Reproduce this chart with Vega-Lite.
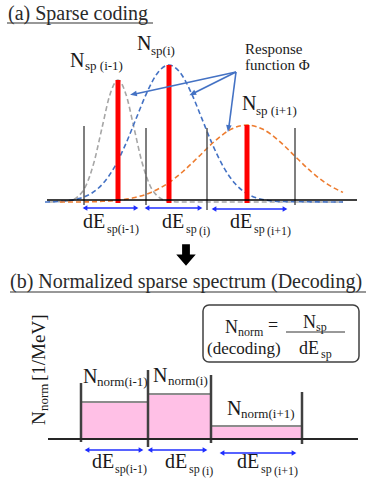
{
  "$schema": "https://vega.github.io/schema/vega-lite/v6.json",
  "width": 376,
  "height": 484,
  "padding": 0,
  "autosize": {"type": "fit", "contains": "padding"},
  "background": "white",
  "config": {"view": {"stroke": null}, "font": "Times New Roman, Liberation Serif, DejaVu Serif, serif"},
  "datasets": {
    "curves": [
      {"s":"g","x":50,"y":202},{"s":"g","x":70,"y":200.6},{"s":"g","x":78,"y":196.6},{"s":"g","x":86,"y":185.5},{"s":"g","x":94,"y":162.3},{"s":"g","x":102,"y":127.9},{"s":"g","x":110,"y":94.4},{"s":"g","x":118,"y":80},{"s":"g","x":126,"y":94.4},{"s":"g","x":134,"y":127.9},{"s":"g","x":142,"y":162.3},{"s":"g","x":150,"y":185.5},{"s":"g","x":158,"y":196.6},{"s":"g","x":166,"y":200.6},{"s":"g","x":180,"y":202},{"s":"g","x":343,"y":202},
      {"s":"b","x":45,"y":202},{"s":"b","x":59,"y":201.5},{"s":"b","x":70,"y":200.5},{"s":"b","x":81,"y":198.1},{"s":"b","x":92,"y":193},{"s":"b","x":103,"y":183.5},{"s":"b","x":114,"y":167.9},{"s":"b","x":125,"y":145.7},{"s":"b","x":136,"y":118.9},{"s":"b","x":147,"y":92.3},{"s":"b","x":158,"y":72.4},{"s":"b","x":169,"y":65},{"s":"b","x":180,"y":72.4},{"s":"b","x":191,"y":92.3},{"s":"b","x":202,"y":118.9},{"s":"b","x":213,"y":145.7},{"s":"b","x":224,"y":167.9},{"s":"b","x":235,"y":183.5},{"s":"b","x":246,"y":193},{"s":"b","x":257,"y":198.1},{"s":"b","x":268,"y":200.5},{"s":"b","x":279,"y":201.5},{"s":"b","x":343,"y":202},
      {"s":"o","x":60,"y":202},{"s":"o","x":87,"y":201.9},{"s":"o","x":103,"y":201.3},{"s":"o","x":119,"y":200.1},{"s":"o","x":135,"y":197.5},{"s":"o","x":151,"y":192.4},{"s":"o","x":167,"y":183.9},{"s":"o","x":183,"y":171.5},{"s":"o","x":199,"y":156.3},{"s":"o","x":215,"y":140.9},{"s":"o","x":231,"y":129.3},{"s":"o","x":247,"y":125},{"s":"o","x":263,"y":129.3},{"s":"o","x":279,"y":140.9},{"s":"o","x":295,"y":156.3},{"s":"o","x":311,"y":171.5},{"s":"o","x":327,"y":183.9},{"s":"o","x":343,"y":192.4}
    ],
    "edgesTop": [
      {"x":84,"y":126,"x2":84,"y2":205},{"x":146,"y":128,"x2":146,"y2":205},{"x":207,"y":128,"x2":207,"y2":210},{"x":295,"y":128,"x2":295,"y2":205}
    ],
    "bars": [
      {"x":118,"y":80,"x2":118,"y2":203},{"x":169,"y":65,"x2":169,"y2":203},{"x":247,"y":125,"x2":247,"y2":203}
    ],
    "baselineTop": [{"x":47,"y":200,"x2":357,"y2":200}],
    "edgesBottom": [
      {"x":81,"y":383,"x2":81,"y2":442},{"x":148,"y":370,"x2":148,"y2":447},{"x":211,"y":375,"x2":211,"y2":443},{"x":302,"y":392,"x2":302,"y2":444}
    ],
    "baselineBottom": [{"x":48,"y":439,"x2":358,"y2":439}],
    "rects": [
      {"x":81,"x2":148,"y":402,"y2":439},{"x":148,"x2":211,"y":394,"y2":439},{"x":211,"x2":302,"y":426,"y2":439}
    ],
    "rectTops": [
      {"x":81,"x2":148,"y":402,"y2":402},{"x":148,"x2":211,"y":394,"y2":394},{"x":211,"x2":302,"y":426,"y2":426}
    ],
    "blueArrows": [
      {"x":84,"x2":137,"y":208,"y2":208},{"x":146,"x2":201,"y":208,"y2":208},{"x":213,"x2":286,"y":209,"y2":209},
      {"x":86,"x2":142,"y":450,"y2":450},{"x":149,"x2":206,"y":450,"y2":450},{"x":221,"x2":295,"y":453,"y2":453}
    ],
    "blueHeads": [
      {"x":85,"y":208,"d":"l"},{"x":136,"y":208,"d":"r"},{"x":147,"y":208,"d":"l"},{"x":200,"y":208,"d":"r"},{"x":214,"y":209,"d":"l"},{"x":285,"y":209,"d":"r"},
      {"x":87,"y":450,"d":"l"},{"x":141,"y":450,"d":"r"},{"x":150,"y":450,"d":"l"},{"x":205,"y":450,"d":"r"},{"x":222,"y":453,"d":"l"},{"x":294,"y":453,"d":"r"}
    ],
    "respLines": [
      {"x":236,"y":72,"x2":135,"y2":94},{"x":236,"y":72,"x2":194,"y2":93},{"x":236,"y":72,"x2":229,"y2":126}
    ],
    "respHeads": [
      {"x":134,"y":94,"a":258},{"x":193,"y":93.5,"a":243},{"x":228.5,"y":128,"a":188}
    ],
    "downArrow": [{"x":186,"y":254}],
    "box": [{"x":203,"x2":359,"y":305,"y2":362}],
    "fracLine": [{"x":286,"x2":345,"y":332,"y2":332}],
    "underlines": [{"x":7,"x2":153,"y":23,"y2":23},{"x":10,"x2":366,"y":292,"y2":292}],
    "titles": [
      {"x":8,"y":20,"t":"(a) Sparse coding"},
      {"x":10,"y":288,"t":"(b) Normalized sparse spectrum (Decoding)"}
    ],
    "mainText": [
      {"x":70,"y":67,"t":"N"},{"x":137,"y":50,"t":"N"},{"x":242,"y":110,"t":"N"},
      {"x":83,"y":228,"t":"dE"},{"x":162,"y":228,"t":"dE"},{"x":230,"y":228,"t":"dE"},
      {"x":83,"y":383,"t":"N"},{"x":153,"y":382,"t":"N"},{"x":227,"y":415,"t":"N"},
      {"x":92,"y":468,"t":"dE"},{"x":165,"y":468,"t":"dE"},{"x":237,"y":468,"t":"dE"}
    ],
    "subText": [
      {"x":85,"y":70,"t":"sp (i-1)"},{"x":151,"y":55,"t":"sp(i)"},{"x":256,"y":115,"t":"sp (i+1)"},
      {"x":97,"y":386,"t":"norm(i-1)"},{"x":168,"y":385,"t":"norm(i)"},{"x":241,"y":418,"t":"norm(i+1)"}
    ],
    "dSubText": [
      {"x":107,"y":233,"t":"sp(i-1)"},{"x":186,"y":233,"t":"sp"},{"x":199,"y":235,"t":"(i)"},{"x":254,"y":233,"t":"sp"},{"x":267,"y":235,"t":"(i+1)"},
      {"x":115,"y":473,"t":"sp(i-1)"},{"x":189,"y":473,"t":"sp"},{"x":202,"y":475,"t":"(i)"},{"x":261,"y":473,"t":"sp"},{"x":274,"y":475,"t":"(i+1)"}
    ],
    "respText": [
      {"x":245,"y":54,"t":"Response"},{"x":245,"y":70,"t":"function Φ"}
    ],
    "formMain": [
      {"x":225,"y":333,"t":"N"},{"x":268,"y":331,"t":"="},{"x":303,"y":328,"t":"N"},{"x":299,"y":354,"t":"dE"}
    ],
    "formDec": [
      {"x":207,"y":354,"t":"(decoding)"}
    ],
    "formSub": [
      {"x":238,"y":336,"t":"norm"},{"x":316,"y":331,"t":"sp"},{"x":321,"y":358,"t":"sp"}
    ],
    "yMain": [{"x":45,"y":425,"t":"N"},{"x":45,"y":381,"t":"[1/MeV]"}],
    "ySub": [{"x":48,"y":411,"t":"norm"}]
  },
  "encoding": {
    "x": {"field": "x", "type": "quantitative", "scale": {"domain": [0, 376], "nice": false, "zero": false}, "axis": null},
    "y": {"field": "y", "type": "quantitative", "scale": {"domain": [0, 484], "reverse": true, "nice": false, "zero": false}, "axis": null}
  },
  "layer": [
    {"data": {"name": "curves"}, "mark": {"type": "line", "interpolate": "monotone", "strokeDash": [5, 3], "strokeWidth": 1.6},
     "encoding": {"color": {"field": "s", "type": "nominal", "scale": {"domain": ["g", "b", "o"], "range": ["#a6a6a6", "#4472c4", "#ed7d31"]}, "legend": null}}},
    {"data": {"name": "edgesTop"}, "mark": {"type": "rule", "color": "#555555", "strokeWidth": 1.5},
     "encoding": {"x2": {"field": "x2"}, "y2": {"field": "y2"}}},
    {"data": {"name": "bars"}, "mark": {"type": "rule", "color": "#ff0000", "strokeWidth": 5},
     "encoding": {"x2": {"field": "x2"}, "y2": {"field": "y2"}}},
    {"data": {"name": "baselineTop"}, "mark": {"type": "rule", "color": "#000000", "strokeWidth": 1.5},
     "encoding": {"x2": {"field": "x2"}, "y2": {"field": "y2"}}},
    {"data": {"name": "respLines"}, "mark": {"type": "rule", "color": "#4472c4", "strokeWidth": 1.6},
     "encoding": {"x2": {"field": "x2"}, "y2": {"field": "y2"}}},
    {"data": {"name": "respHeads"}, "mark": {"type": "point", "shape": "M0,-1L0.7,0.7L-0.7,0.7Z", "filled": true, "color": "#4472c4", "size": 64, "opacity": 1},
     "encoding": {"angle": {"field": "a", "type": "quantitative", "scale": null}}},
    {"data": {"name": "rects"}, "mark": {"type": "rect", "color": "#ffc0e6"},
     "encoding": {"x2": {"field": "x2"}, "y2": {"field": "y2"}}},
    {"data": {"name": "rectTops"}, "mark": {"type": "rule", "color": "#8c8c8c", "strokeWidth": 2},
     "encoding": {"x2": {"field": "x2"}, "y2": {"field": "y2"}}},
    {"data": {"name": "edgesBottom"}, "mark": {"type": "rule", "color": "#404040", "strokeWidth": 2.5},
     "encoding": {"x2": {"field": "x2"}, "y2": {"field": "y2"}}},
    {"data": {"name": "baselineBottom"}, "mark": {"type": "rule", "color": "#262626", "strokeWidth": 2},
     "encoding": {"x2": {"field": "x2"}, "y2": {"field": "y2"}}},
    {"data": {"name": "blueArrows"}, "mark": {"type": "rule", "color": "#1f2eff", "strokeWidth": 1.5},
     "encoding": {"x2": {"field": "x2"}, "y2": {"field": "y2"}}},
    {"data": {"name": "blueHeads"}, "mark": {"type": "point", "filled": true, "color": "#1f2eff", "size": 30, "opacity": 1},
     "encoding": {"shape": {"field": "d", "type": "nominal", "scale": {"domain": ["l", "r"], "range": ["triangle-left", "triangle-right"]}, "legend": null}}},
    {"data": {"name": "downArrow"}, "mark": {"type": "point", "shape": "M-0.4,-1L0.4,-1L0.4,0.05L1,0.05L0,1.2L-1,0.05L-0.4,0.05Z", "filled": true, "color": "#000000", "size": 380, "opacity": 1}},
    {"data": {"name": "box"}, "mark": {"type": "rect", "fill": null, "fillOpacity": 0, "stroke": "#404040", "strokeWidth": 1.5, "cornerRadius": 6},
     "encoding": {"x2": {"field": "x2"}, "y2": {"field": "y2"}}},
    {"data": {"name": "fracLine"}, "mark": {"type": "rule", "color": "#333333", "strokeWidth": 1},
     "encoding": {"x2": {"field": "x2"}, "y2": {"field": "y2"}}},
    {"data": {"name": "underlines"}, "mark": {"type": "rule", "color": "#333333", "strokeWidth": 1.2},
     "encoding": {"x2": {"field": "x2"}, "y2": {"field": "y2"}}},
    {"data": {"name": "titles"}, "mark": {"type": "text", "font": "Times New Roman, Liberation Serif, DejaVu Serif, serif", "fontSize": 20, "align": "left", "baseline": "alphabetic", "color": "#2a2a2a"},
     "encoding": {"text": {"field": "t"}}},
    {"data": {"name": "mainText"}, "mark": {"type": "text", "font": "Times New Roman, Liberation Serif, DejaVu Serif, serif", "fontSize": 20, "align": "left", "baseline": "alphabetic", "color": "#1a1a1a"},
     "encoding": {"text": {"field": "t"}}},
    {"data": {"name": "subText"}, "mark": {"type": "text", "font": "Times New Roman, Liberation Serif, DejaVu Serif, serif", "fontSize": 13, "align": "left", "baseline": "alphabetic", "color": "#1a1a1a"},
     "encoding": {"text": {"field": "t"}}},
    {"data": {"name": "dSubText"}, "mark": {"type": "text", "font": "Times New Roman, Liberation Serif, DejaVu Serif, serif", "fontSize": 12, "align": "left", "baseline": "alphabetic", "color": "#1a1a1a"},
     "encoding": {"text": {"field": "t"}}},
    {"data": {"name": "respText"}, "mark": {"type": "text", "font": "Times New Roman, Liberation Serif, DejaVu Serif, serif", "fontSize": 15, "align": "left", "baseline": "alphabetic", "color": "#1a1a1a"},
     "encoding": {"text": {"field": "t"}}},
    {"data": {"name": "formMain"}, "mark": {"type": "text", "font": "Times New Roman, Liberation Serif, DejaVu Serif, serif", "fontSize": 18, "align": "left", "baseline": "alphabetic", "color": "#1a1a1a"},
     "encoding": {"text": {"field": "t"}}},
    {"data": {"name": "formDec"}, "mark": {"type": "text", "font": "Times New Roman, Liberation Serif, DejaVu Serif, serif", "fontSize": 17, "align": "left", "baseline": "alphabetic", "color": "#1a1a1a"},
     "encoding": {"text": {"field": "t"}}},
    {"data": {"name": "formSub"}, "mark": {"type": "text", "font": "Times New Roman, Liberation Serif, DejaVu Serif, serif", "fontSize": 12, "align": "left", "baseline": "alphabetic", "color": "#1a1a1a"},
     "encoding": {"text": {"field": "t"}}},
    {"data": {"name": "yMain"}, "mark": {"type": "text", "font": "Times New Roman, Liberation Serif, DejaVu Serif, serif", "fontSize": 19, "align": "left", "baseline": "alphabetic", "angle": 270, "color": "#1a1a1a"},
     "encoding": {"text": {"field": "t"}}},
    {"data": {"name": "ySub"}, "mark": {"type": "text", "font": "Times New Roman, Liberation Serif, DejaVu Serif, serif", "fontSize": 13, "align": "left", "baseline": "alphabetic", "angle": 270, "color": "#1a1a1a"},
     "encoding": {"text": {"field": "t"}}}
  ]
}
